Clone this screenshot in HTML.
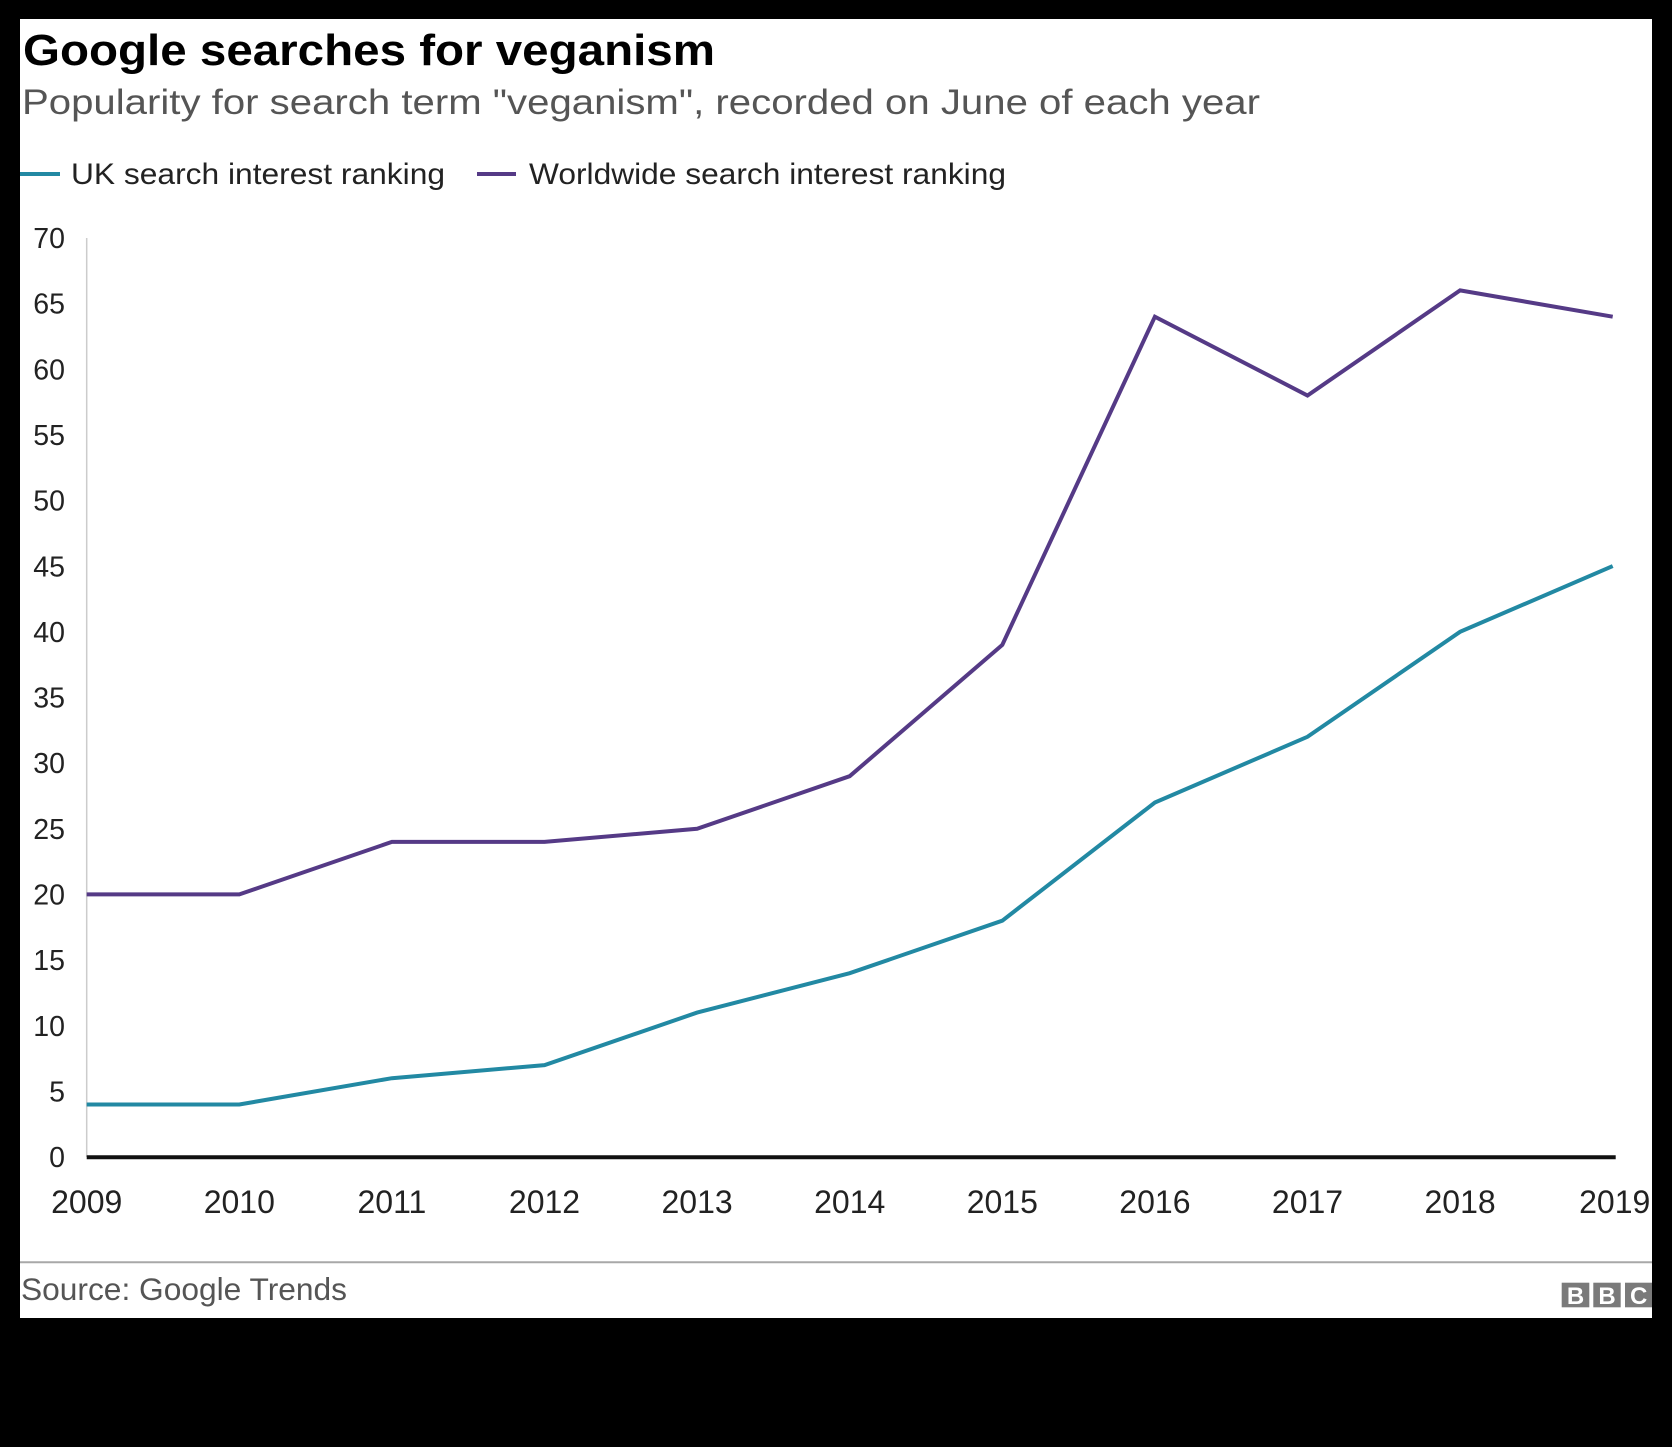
<!DOCTYPE html>
<html>
<head>
<meta charset="utf-8">
<style>
  html, body { margin: 0; padding: 0; background: #000; }
  body { width: 1672px; height: 1447px; overflow: hidden; }
  svg { display: block; }
  text { font-family: "Liberation Sans", Arial, sans-serif; }
</style>
</head>
<body>
<svg width="1672" height="1447" viewBox="0 0 1672 1447" xmlns="http://www.w3.org/2000/svg">
  <defs>
    <clipPath id="panel">
      <rect x="20" y="19" width="1632" height="1299"/>
    </clipPath>
  </defs>
  <rect x="0" y="0" width="1672" height="1447" fill="#000"/>
  <g clip-path="url(#panel)">
    <rect x="20" y="19" width="1632" height="1299" fill="#fff"/>

    <!-- Title & subtitle -->
    <text x="23" y="65" font-size="44" font-weight="bold" fill="#000" textLength="692" lengthAdjust="spacingAndGlyphs">Google searches for veganism</text>
    <text x="22" y="114" font-size="35" fill="#555" textLength="1238" lengthAdjust="spacingAndGlyphs">Popularity for search term "veganism", recorded on June of each year</text>

    <!-- Legend -->
    <line x1="20" y1="174" x2="60" y2="174" stroke="#2289a3" stroke-width="4"/>
    <text x="71" y="184" font-size="30" fill="#222" textLength="374" lengthAdjust="spacingAndGlyphs">UK search interest ranking</text>
    <line x1="477" y1="174" x2="516" y2="174" stroke="#553a86" stroke-width="4"/>
    <text x="529" y="184" font-size="30" fill="#222" textLength="477" lengthAdjust="spacingAndGlyphs">Worldwide search interest ranking</text>

    <!-- Y axis line -->
    <line x1="86.7" y1="238" x2="86.7" y2="1157" stroke="#cccccc" stroke-width="1.5"/>

    <!-- Y labels -->
    <g font-size="28.5" fill="#222" text-anchor="end">
      <text x="65" y="248">70</text>
      <text x="65" y="313.7">65</text>
      <text x="65" y="379.3">60</text>
      <text x="65" y="445">55</text>
      <text x="65" y="510.6">50</text>
      <text x="65" y="576.3">45</text>
      <text x="65" y="641.9">40</text>
      <text x="65" y="707.6">35</text>
      <text x="65" y="773.2">30</text>
      <text x="65" y="838.9">25</text>
      <text x="65" y="904.5">20</text>
      <text x="65" y="970.2">15</text>
      <text x="65" y="1035.8">10</text>
      <text x="65" y="1101.5">5</text>
      <text x="65" y="1167">0</text>
    </g>

    <!-- Series -->
    <polyline fill="none" stroke="#553a86" stroke-width="4" stroke-linejoin="miter" stroke-linecap="butt"
      points="86.7,894.4 239.3,894.4 391.9,841.9 544.5,841.9 697.1,828.8 849.7,776.2 1002.3,644.9 1154.9,316.7 1307.5,395.5 1460.1,290.4 1612.7,316.7"/>
    <polyline fill="none" stroke="#2289a3" stroke-width="4" stroke-linejoin="miter" stroke-linecap="butt"
      points="86.7,1104.5 239.3,1104.5 391.9,1078.2 544.5,1065.1 697.1,1012.6 849.7,973.2 1002.3,920.7 1154.9,802.5 1307.5,736.8 1460.1,631.8 1612.7,566.1"/>

    <!-- X axis line -->
    <line x1="86.7" y1="1157.3" x2="1615.7" y2="1157.3" stroke="#111" stroke-width="4"/>

    <!-- X labels -->
    <g font-size="32" fill="#222" text-anchor="middle">
      <text x="86.7" y="1213">2009</text>
      <text x="239.3" y="1213">2010</text>
      <text x="391.9" y="1213">2011</text>
      <text x="544.5" y="1213">2012</text>
      <text x="697.1" y="1213">2013</text>
      <text x="849.7" y="1213">2014</text>
      <text x="1002.3" y="1213">2015</text>
      <text x="1154.9" y="1213">2016</text>
      <text x="1307.5" y="1213">2017</text>
      <text x="1460.1" y="1213">2018</text>
      <text x="1614.7" y="1213">2019</text>
    </g>

    <!-- Footer -->
    <line x1="20" y1="1262.3" x2="1652" y2="1262.3" stroke="#a8a8a8" stroke-width="2"/>
    <text x="21" y="1300" font-size="31.5" fill="#555" textLength="326" lengthAdjust="spacingAndGlyphs">Source: Google Trends</text>

    <!-- BBC logo -->
    <g>
      <rect x="1561.7" y="1282.7" width="27.6" height="24.6" fill="#7a7a7a"/>
      <rect x="1593.3" y="1282.7" width="27.4" height="24.6" fill="#7a7a7a"/>
      <rect x="1625" y="1282.7" width="27.4" height="24.6" fill="#7a7a7a"/>
      <g font-size="24" font-weight="bold" fill="#fff" text-anchor="middle">
        <text x="1575.5" y="1304">B</text>
        <text x="1607" y="1304">B</text>
        <text x="1638.7" y="1304">C</text>
      </g>
    </g>
  </g>
</svg>
</body>
</html>
